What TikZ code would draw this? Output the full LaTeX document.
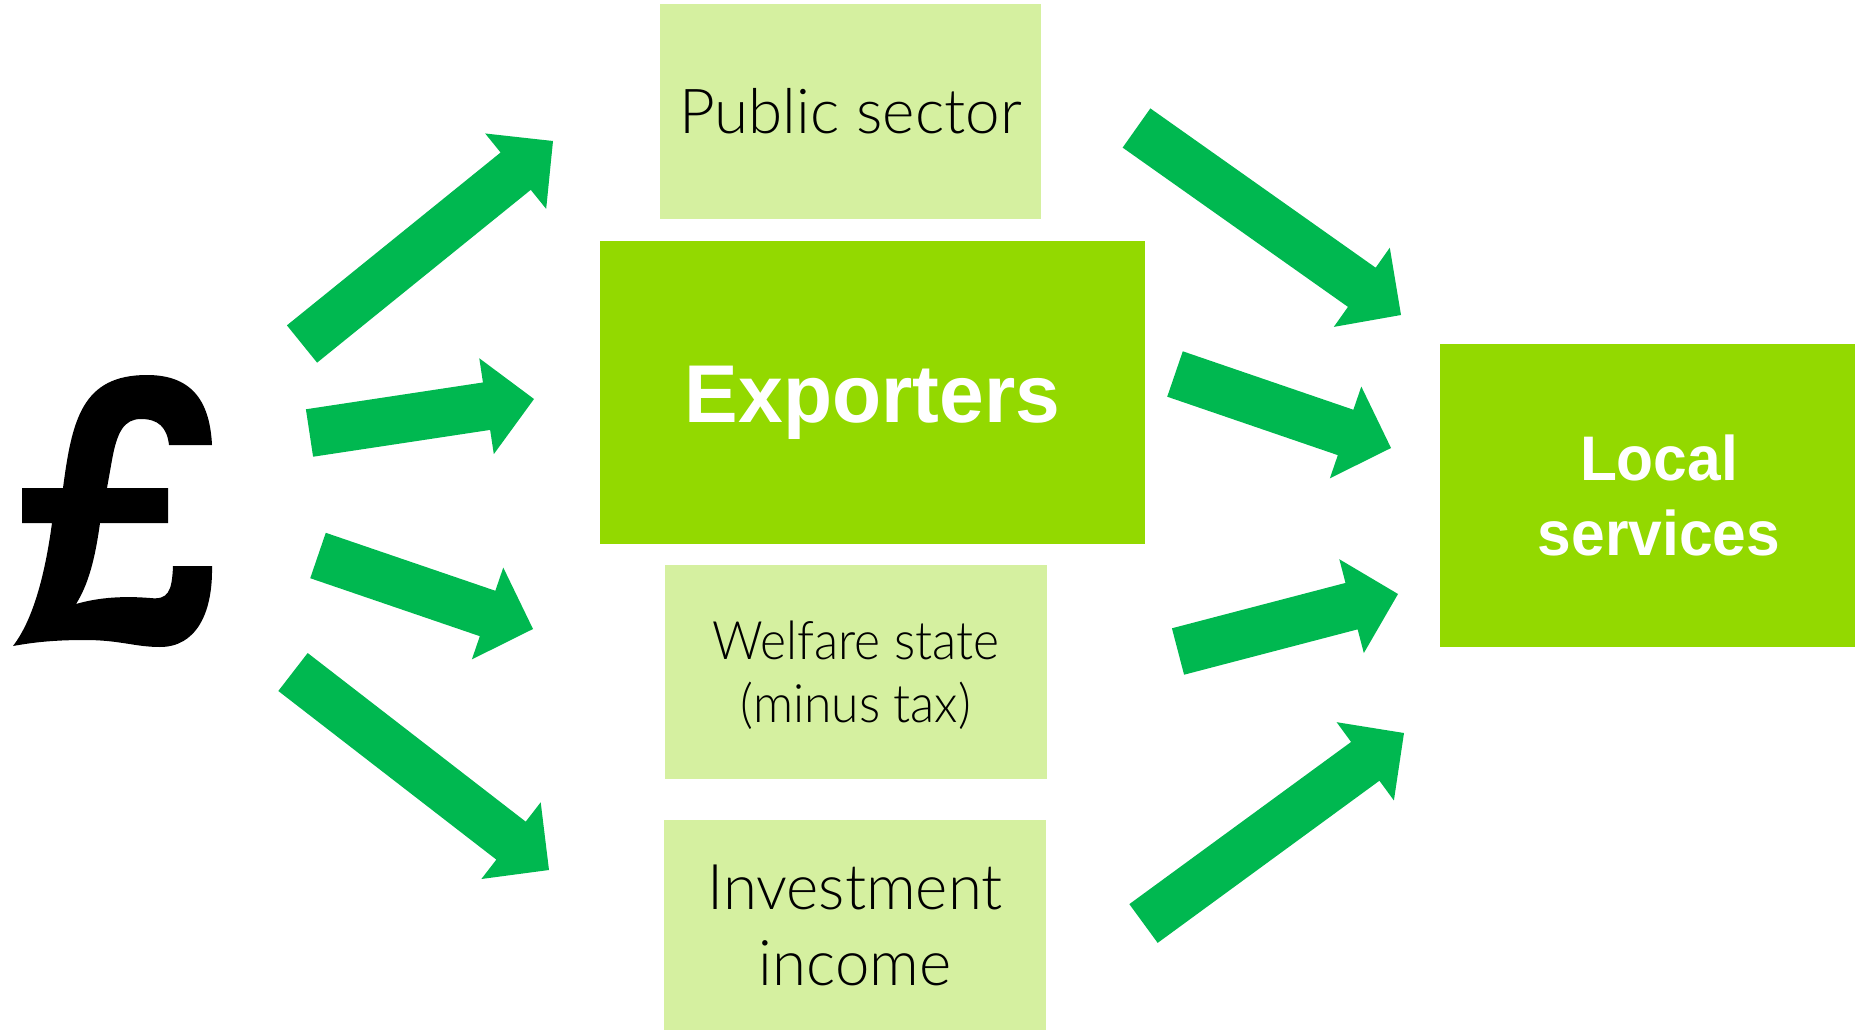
\documentclass[tikz,border=0pt]{standalone}
\usepackage{fontspec}
\usetikzlibrary{calc}
\IfFontExistsTF{Lato Light}{\newfontfamily\lightfont{Lato Light}}{\newfontfamily\lightfont{Carlito}}
\newfontfamily\headfont{Liberation Sans}
\definecolor{paleleaf}{HTML}{D5F0A0}
\definecolor{leaf}{HTML}{93D900}
\definecolor{flowgreen}{HTML}{00B850}

% block arrow from tail midpoint #1 to tip #2
\newcommand{\flowarrow}[2]{%
  \coordinate (hb) at ($(#2)!48pt!(#1)$);
  \fill[flow] ($(#1)!24pt!90:(#2)$) -- ($(hb)!24pt!90:(#2)$)
    -- ($(hb)!48.5pt!90:(#2)$) -- (#2) -- ($(hb)!48.5pt!-90:(#2)$)
    -- ($(hb)!24pt!-90:(#2)$) -- ($(#1)!24pt!-90:(#2)$) -- cycle;
}

\begin{document}
\begin{tikzpicture}[x=1pt,y=-1pt,
  box/.style={rectangle, inner sep=0pt, outer sep=0pt, align=center, text depth=0pt},
  sourcebox/.style={box, fill=paleleaf, text=black},
  hubbox/.style={box, fill=leaf, text=white},
  flow/.style={fill=flowgreen}]

\useasboundingbox (0,0) rectangle (1855,1030);
\clip (0,0) rectangle (1855,1030);

% income sources (text height = cap height + extra lines, so the text block is centred)
\node[sourcebox, minimum width=381pt, minimum height=215pt,
      font=\lightfont\fontsize{62}{76}\selectfont, text height=45pt]
      (public) at (850.5,111.5) {Public sector};
\node[hubbox, minimum width=545pt, minimum height=303pt,
      font=\headfont\bfseries\addfontfeatures{FakeStretch=0.98}\fontsize{82}{96}\selectfont, text height=59pt]
      (exporters) at (872.5,392.5) {Exporters};
\node[sourcebox, minimum width=382pt, minimum height=214pt,
      font=\lightfont\addfontfeatures{FakeStretch=0.94}\fontsize{53}{63}\selectfont, text height=101pt]
      (welfare) at (856,672) {Welfare state\\(minus tax)};
\node[sourcebox, minimum width=382pt, minimum height=210pt,
      font=\lightfont\addfontfeatures{FakeStretch=0.98}\fontsize{63}{76}\selectfont, text height=121pt]
      (invest) at (855,925) {Investment\\income};

% destination
\node[hubbox, minimum width=438pt, minimum height=303pt,
      font=\headfont\bfseries\addfontfeatures{FakeStretch=0.96}\fontsize{63}{75}\selectfont, text height=120pt]
      (local) at (1659,495.5) {Local\\services};

% pound sign
\fill[black] (212,445) -- (169,445)
  .. controls (167,427) and (158,419) .. (141,419)
  .. controls (124,419) and (117,432) .. (112,460)
  -- (107,488) -- (168,488) -- (168,523) -- (100,523)
  .. controls (95,560) and (88,585) .. (76,604)
  .. controls (100,597) and (125,596) .. (150,598)
  .. controls (168,600) and (172,592) .. (173,566)
  -- (212,566)
  .. controls (213,615) and (195,647) .. (160,647)
  .. controls (135,647) and (120,640) .. (85,640)
  .. controls (50,640) and (30,643) .. (13,646)
  .. controls (33,620) and (45,575) .. (52,523)
  -- (22,523) -- (22,488) -- (63,488)
  .. controls (72,420) and (82,375) .. (147,375)
  .. controls (195,375) and (210,405) .. (212,445) -- cycle;

% arrow end points
\coordinate (s1) at (302,344);    \coordinate (e1) at (553,141);
\coordinate (s2) at (309.5,433);  \coordinate (e2) at (534,399);
\coordinate (s3) at (318,555.5);  \coordinate (e3) at (533,629);
\coordinate (s4) at (293,672);    \coordinate (e4) at (549,870);
\coordinate (s5) at (1136.5,128); \coordinate (e5) at (1401,315);
\coordinate (s6) at (1175,374);   \coordinate (e6) at (1391,448);
\coordinate (s7) at (1178,651.5); \coordinate (e7) at (1398,594);
\coordinate (s8) at (1143.5,923.5); \coordinate (e8) at (1404,733);

\flowarrow{s1}{e1}
\flowarrow{s2}{e2}
\flowarrow{s3}{e3}
\flowarrow{s4}{e4}
\flowarrow{s5}{e5}
\flowarrow{s6}{e6}
\flowarrow{s7}{e7}
\flowarrow{s8}{e8}
\end{tikzpicture}
\end{document}
